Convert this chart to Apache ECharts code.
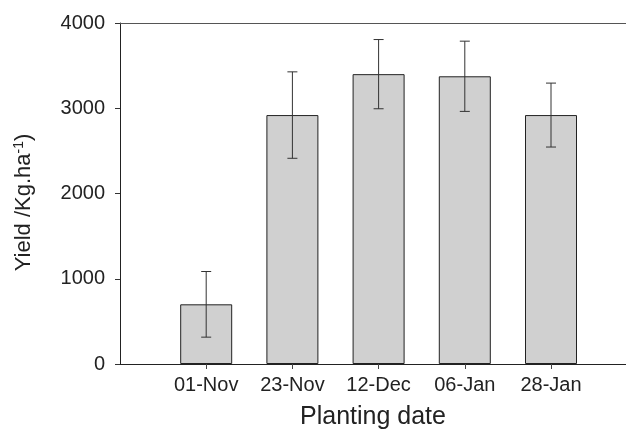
<!DOCTYPE html>
<html>
<head>
<meta charset="utf-8">
<script src="https://cdn.jsdelivr.net/npm/echarts@6/dist/echarts.min.js"></script>
<style>html,body{margin:0;padding:0;background:#fff;}#c{width:626px;height:435px;}</style>
</head>
<body>
<div id="c"></div>
<script>
var categories = ['01-Nov', '23-Nov', '12-Dec', '06-Jan', '28-Jan'];
var yieldMeans = [700, 2920, 3400, 3375, 2920];
var yieldErrors = [385, 507, 406, 412, 375];
var yTicks = [0, 1000, 2000, 3000, 4000];

var positions = categories.map(function (c, i) { return i + 1; });
var barData = positions.map(function (p, i) { return [p, yieldMeans[i]]; });
var errData = positions.map(function (p, i) { return [p, yieldMeans[i] - yieldErrors[i], yieldMeans[i] + yieldErrors[i]]; });

var font = 'Liberation Sans, Arial, Helvetica, sans-serif';
var chart = echarts.init(document.getElementById('c'), null, {renderer: 'canvas'});
chart.setOption({
  animation: false,
  backgroundColor: '#fff',
  grid: {left: 120, right: 0, top: 23, bottom: 69, containLabel: false},
  xAxis: [{
    type: 'value', min: 0, max: 5.87, interval: 1,
    axisLine: {show: true, lineStyle: {color: '#222', width: 1}},
    axisTick: {show: true, length: 5, customValues: positions, lineStyle: {color: '#444'}},
    axisLabel: {
      customValues: positions, margin: 11, color: '#222', fontSize: 20, fontFamily: font,
      formatter: function (v) { return categories[Math.round(v) - 1] || ''; }
    },
    splitLine: {show: false},
    name: 'Planting date', nameLocation: 'middle', nameGap: 41,
    nameTextStyle: {color: '#222', fontSize: 25, fontFamily: font}
  }, {
    type: 'value', position: 'top', min: 0, max: 5.87,
    axisLine: {show: true, onZero: false, lineStyle: {color: '#555', width: 1}},
    axisTick: {show: false}, axisLabel: {show: false}, splitLine: {show: false}
  }],
  yAxis: {
    type: 'value', min: 0, max: 4000, interval: 1000,
    axisLine: {show: true, lineStyle: {color: '#222', width: 1}},
    axisTick: {show: true, length: 5, lineStyle: {color: '#333'}},
    axisLabel: {margin: 15, color: '#222', fontSize: 20, fontFamily: font,
      formatter: function (v) { return yTicks.indexOf(v) >= 0 ? String(v) : ''; }},
    splitLine: {show: false},
    name: 'Yield /Kg.ha{sup|-1})', nameLocation: 'middle', nameGap: 84, nameRotate: 90,
    nameTextStyle: {color: '#222', fontSize: 22, fontFamily: font, padding: [0, 18, 0, 0],
      rich: {sup: {fontSize: 14, fontFamily: font, color: '#222', verticalAlign: 'top', padding: [0, 0, 10, 0]}}}
  },
  series: [{
    type: 'bar', data: barData, barWidth: 52,
    itemStyle: {color: '#d0d0d0', borderColor: '#222', borderWidth: 1}
  }, {
    type: 'custom', data: errData,
    renderItem: function (params, api) {
      var x = api.coord([api.value(0), 0])[0];
      var lo = api.coord([api.value(0), api.value(1)])[1];
      var hi = api.coord([api.value(0), api.value(2)])[1];
      var s = {stroke: '#333', lineWidth: 1};
      return {type: 'group', children: [
        {type: 'line', shape: {x1: x, y1: lo, x2: x, y2: hi}, style: s},
        {type: 'line', shape: {x1: x - 5, y1: lo, x2: x + 5, y2: lo}, style: s},
        {type: 'line', shape: {x1: x - 5, y1: hi, x2: x + 5, y2: hi}, style: s}
      ]};
    },
    z: 5
  }]
});
</script>
</body>
</html>
